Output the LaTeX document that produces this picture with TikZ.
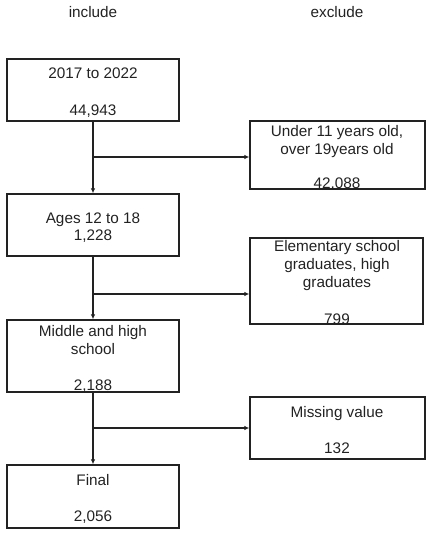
\documentclass[tikz,border=0pt]{standalone}
\usepackage{fontspec}
\setmainfont{Liberation Sans}
\usetikzlibrary{arrows.meta}
\definecolor{ink}{HTML}{222222}
\tikzset{
  box/.style={draw=ink, line width=1.3pt, minimum width=#1, inner sep=0pt},
  txt/.style={anchor=base, inner sep=0pt, text=ink, font=\fontsize{15.3}{18}\selectfont},
  conn/.style={draw=ink, line width=1.3pt, -{Latex[length=5pt,width=4.5pt]}},
  flow/.style={draw=ink, line width=1.3pt}
}
\begin{document}
\begin{tikzpicture}[x=1pt,y=-1pt]
\useasboundingbox (0,0) rectangle (427,535);
% headers
\node[txt] (hin) at (93,17.5) {include};
\node[txt] (hex) at (337,17.5) {exclude};
% include boxes
\node[box=172pt, minimum height=62pt] (b1) at (93,90) {};
\node[box=172pt, minimum height=62pt] (b2) at (93,225) {};
\node[box=172pt, minimum height=72pt] (b3) at (93,356) {};
\node[box=172pt, minimum height=63pt] (b4) at (93,496.5) {};
% exclude boxes
\node[box=175pt, minimum height=68pt] (e1) at (337.5,155) {};
\node[box=173pt, minimum height=86pt] (e2) at (336.5,281) {};
\node[box=175pt, minimum height=62pt] (e3) at (337.5,428) {};
% texts
\node[txt] (t1a) at (93,78) {2017 to 2022};
\node[txt] (t1b) at (93,115) {44,943};
\node[txt] (t2a) at (93,223) {Ages 12 to 18};
\node[txt] (t2b) at (93,240) {1,228};
\node[txt] (t3a) at (93,336) {Middle and high};
\node[txt] (t3b) at (93,354) {school};
\node[txt] (t3c) at (93,390) {2,188};
\node[txt] (t4a) at (93,485) {Final};
\node[txt] (t4b) at (93,521) {2,056};
\node[txt] (u1a) at (337,136) {Under 11 years old,};
\node[txt] (u1b) at (337,154) {over 19years old};
\node[txt] (u1c) at (337,188) {42,088};
\node[txt] (u2a) at (337,251.5) {Elementary school};
\node[txt] (u2b) at (337,269.5) {graduates, high};
\node[txt] (u2c) at (337,287.5) {graduates};
\node[txt] (u2d) at (337,324) {799};
\node[txt] (u3a) at (337,417) {Missing value};
\node[txt] (u3b) at (337,453) {132};
% branch points
\coordinate (s1) at (93,157);
\coordinate (s2) at (93,294);
\coordinate (s3) at (93,428);
% connectors
\draw[conn] (b1.south) -- (b2.north);
\draw[conn] (b2.south) -- (b3.north);
\draw[conn] (b3.south) -- (b4.north);
\draw[conn] (s1) -- (s1 -| e1.west);
\draw[conn] (s2) -- (s2 -| e2.west);
\draw[conn] (s3) -- (s3 -| e3.west);
\end{tikzpicture}
\end{document}
